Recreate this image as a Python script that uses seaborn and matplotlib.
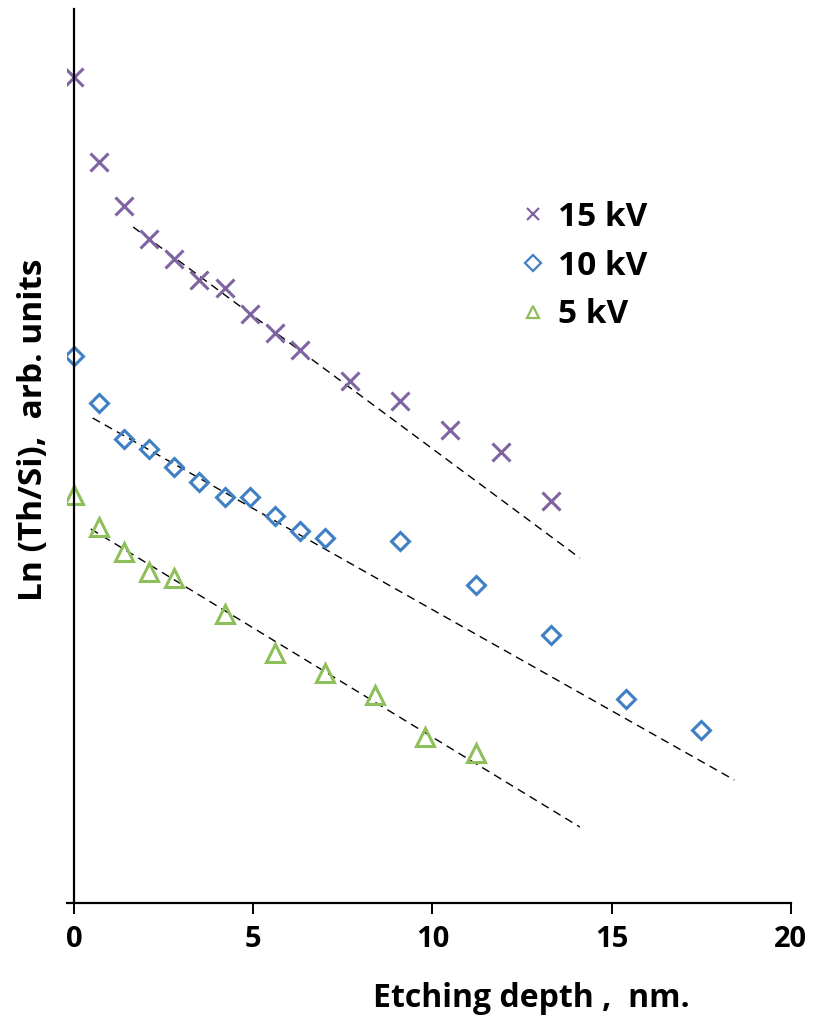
import matplotlib
matplotlib.use("Agg")
import matplotlib.pyplot as plt
import seaborn as sns
import numpy as np
import pandas as pd

# ---- data (y in arbitrary Ln units) ----
depth_15 = [0, 0.7, 1.4, 2.1, 2.8, 3.5, 4.2, 4.9, 5.6, 6.3, 7.7, 9.1, 10.5, 11.9, 13.3]
ln_15 = [8.26, 7.41, 6.97, 6.64, 6.44, 6.23, 6.15, 5.89, 5.70, 5.53, 5.22, 5.02, 4.73, 4.51, 4.02]

depth_10 = [0, 0.7, 1.4, 2.1, 2.8, 3.5, 4.2, 4.9, 5.6, 6.3, 7.0, 9.1, 11.2, 13.3, 15.4, 17.5]
ln_10 = [5.47, 5.00, 4.64, 4.54, 4.36, 4.21, 4.06, 4.06, 3.87, 3.72, 3.65, 3.62, 3.18, 2.68, 2.04, 1.73]

depth_5 = [0, 0.7, 1.4, 2.1, 2.8, 4.2, 5.6, 7.0, 8.4, 9.8, 11.2]
ln_5 = [4.08, 3.76, 3.51, 3.31, 3.25, 2.89, 2.50, 2.30, 2.08, 1.66, 1.50]

# linear fit lines (start/end in data units)
fit_x_15 = [1.65, 14.11]
fit_y_15 = [6.76, 3.45]
fit_x_10 = [0.52, 18.42]
fit_y_10 = [4.85, 1.23]
fit_x_5 = [0.47, 14.11]
fit_y_5 = [3.74, 0.76]

series_labels = ["15 kV", "10 kV", "5 kV"]
x_ticks = [0, 5, 10, 15, 20]
x_label = "Etching depth ,  nm."
y_label = "Ln (Th/Si),  arb. units"

colors = ["#8064A2", "#3F7FC4", "#8FBF5A"]

sns.set_theme(style="white")
FONT = ["Open Sans", "DejaVu Sans"]
plt.rcParams["font.family"] = FONT
plt.rcParams["font.weight"] = "bold"
plt.rcParams["text.color"] = "black"

W, H = 820, 1021
fig = plt.figure(figsize=(W / 100, H / 100), dpi=100)
x0 = -0.2
ax_left_px = 74 - 0.2 * 35.85
ax = fig.add_axes([ax_left_px / W, (H - 903) / H, (791 - ax_left_px) / W, (903 - 9) / H])

# fit lines
for fx, fy in [(fit_x_15, fit_y_15), (fit_x_10, fit_y_10), (fit_x_5, fit_y_5)]:
    sns.lineplot(x=fx, y=fy, ax=ax, color="black", linewidth=1.0,
                 linestyle=(0, (6, 4)), legend=False)

# data markers
sns.lineplot(x=depth_15, y=ln_15, ax=ax, linestyle="", marker="x",
             markersize=13, markeredgewidth=2.2, markeredgecolor=colors[0],
             color=colors[0], label=series_labels[0])
sns.lineplot(x=depth_10, y=ln_10, ax=ax, linestyle="", marker="D",
             markersize=9.5, markeredgewidth=2.2, markerfacecolor="none",
             markeredgecolor=colors[1], color=colors[1], label=series_labels[1])
sns.lineplot(x=depth_5, y=ln_5, ax=ax, linestyle="", marker="^",
             markersize=13, markeredgewidth=2.2, markerfacecolor="none",
             markeredgecolor=colors[2], color=colors[2], label=series_labels[2])

ax.set_xlim(x0, 20)
ax.set_ylim(0, 8.94)
ax.set_xticks(x_ticks)
ax.set_xticklabels([str(t) for t in x_ticks], fontsize=21, fontweight="bold")
ax.set_yticks([])

for s in ["top", "right"]:
    ax.spines[s].set_visible(False)
ax.spines["left"].set_position(("data", 0))
ax.spines["left"].set_linewidth(1.6)
ax.spines["bottom"].set_linewidth(1.6)
for s in ["left", "bottom"]:
    ax.spines[s].set_color("black")
ax.tick_params(axis="x", direction="out", length=8, width=1.4, pad=8,
               colors="black", bottom=True)

ax.set_xlabel(x_label, fontsize=23, fontweight="bold", color="black")
ax.xaxis.set_label_coords(531 / W, 1 - 982 / H, transform=fig.transFigure)
ax.set_ylabel(y_label, fontsize=24, fontweight="bold", color="black")
ax.yaxis.set_label_coords(50 / W, 1 - 430 / H, transform=fig.transFigure)

leg = ax.legend(loc="upper left", bbox_to_anchor=(516 / W, 1 - 201 / H),
                bbox_transform=fig.transFigure, frameon=False,
                prop={"family": FONT, "weight": "bold", "size": 24},
                labelcolor="black",
                handlelength=1.0, handletextpad=0.25, labelspacing=0.47,
                borderpad=0, borderaxespad=0)
for h in leg.legend_handles:
    h.set_markersize(8)
    h.set_markeredgewidth(1.6)

fig.savefig("out.png", dpi=100, facecolor="white")
